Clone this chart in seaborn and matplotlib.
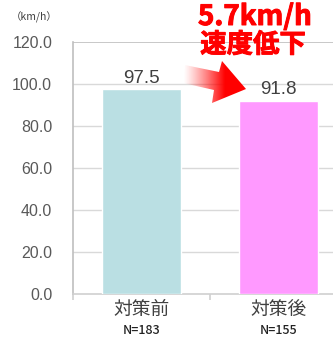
import numpy as np
import pandas as pd
import matplotlib
matplotlib.use("Agg")
import matplotlib.pyplot as plt
import matplotlib.patheffects as pe
import seaborn as sns
from matplotlib.patches import Polygon

categories = ["対策前", "対策後"]
counts = ["N=183", "N=155"]
speeds = [97.5, 91.8]
bar_colors = ["#badfe3", "#ff99ff"]
yticks = [0, 20, 40, 60, 80, 100, 120]
unit_label = "（km/h）"
headline = "5.7km/h"
subline = "速度低下"

sns.set_theme(style="white")
plt.rcParams['font.family'] = ['Noto Sans CJK JP', 'DejaVu Sans']

W, H = 333, 337
fig = plt.figure(figsize=(W / 100, H / 100), dpi=100)
ax = fig.add_axes([73 / W, 43 / H, 274 / W, 252 / H])

df = pd.DataFrame({"cat": categories, "speed": speeds})
sns.barplot(data=df, x="cat", y="speed", hue="cat", palette=bar_colors,
            width=0.577, saturation=1, legend=False, ax=ax, zorder=3)

ax.set_xlim(-0.5, 1.5)
ax.set_ylim(0, 120)
ax.set_yticks(yticks)
ax.set_yticklabels([f"{v:.1f}" for v in yticks], color="#595959", fontsize=11.5,
                   family=['Liberation Sans', 'DejaVu Sans'])
ax.set_xlabel("")
ax.set_ylabel("")
for v in yticks[1:]:
    ax.axhline(v, color="#bfbfbf" if v == 120 else "#d9d9d9", lw=1.2 if v == 120 else 1.0, zorder=1)
for s in ["top", "right"]:
    ax.spines[s].set_visible(False)
ax.spines["left"].set_color("#bfbfbf")
ax.spines["left"].set_linewidth(1.2)
ax.spines["bottom"].set_color("#d0d0d0")
ax.spines["bottom"].set_linewidth(1.2)
ax.tick_params(axis="y", length=0, pad=15)
ax.set_xticks([-0.5, 0.5, 1.5], minor=True)
ax.tick_params(axis="x", which="minor", length=4, color="#d0d0d0", width=1.2, bottom=True)
ax.tick_params(axis="x", which="major", length=0)
ax.set_xticks([0, 1])
ax.set_xticklabels([])

for i, (c, n, v) in enumerate(zip(categories, counts, speeds)):
    ax.text(i, v + 1.3, f"{v:.1f}", ha="center", va="bottom", fontsize=13.5,
            color="#404040", family=['Liberation Sans', 'DejaVu Sans'])
    ax.text(i, -2.5, c, ha="center", va="top", fontsize=13.5, color="#404040")
    ax.text(i, -14.5, n, ha="center", va="top", fontsize=9, color="#222222",
            fontweight="medium", family=['Noto Sans CJK JP', 'DejaVu Sans'])

# overlay in pixel coordinates
ov = fig.add_axes([0, 0, 1, 1], zorder=10)
ov.set_xlim(0, W)
ov.set_ylim(H, 0)
ov.axis("off")
ov.patch.set_alpha(0)

ov.text(11, 17, unit_label, fontsize=7.5, color="#404040", va="center", ha="left")
thick = [pe.withStroke(linewidth=0.7, foreground="#ff0000")]
ov.text(255, 17, headline, fontsize=20, color="#ff0000", fontweight="bold",
        ha="center", va="center", path_effects=thick)
ov.text(253, 45, subline, fontsize=19, color="#ff0000", fontweight="bold",
        ha="center", va="center", path_effects=thick)

arrow = np.array([[185, 65], [219, 72], [222, 61], [246, 89], [212, 103],
                  [214, 90], [183, 83]])
poly = Polygon(arrow, closed=True, facecolor="none", edgecolor="none")
ov.add_patch(poly)
grad = np.zeros((10, 100, 4))
x = np.linspace(0, 1, 100)
alpha = np.clip(x * 1.5, 0, 1) ** 1.2
grad[..., 0] = 1.0
grad[..., 3] = alpha[None, :]
im = ov.imshow(grad, extent=[183, 246, 103, 61], aspect="auto", interpolation="bilinear")
im.set_clip_path(poly)
ov.set_xlim(0, W)
ov.set_ylim(H, 0)

fig.savefig("out.png", dpi=100)
